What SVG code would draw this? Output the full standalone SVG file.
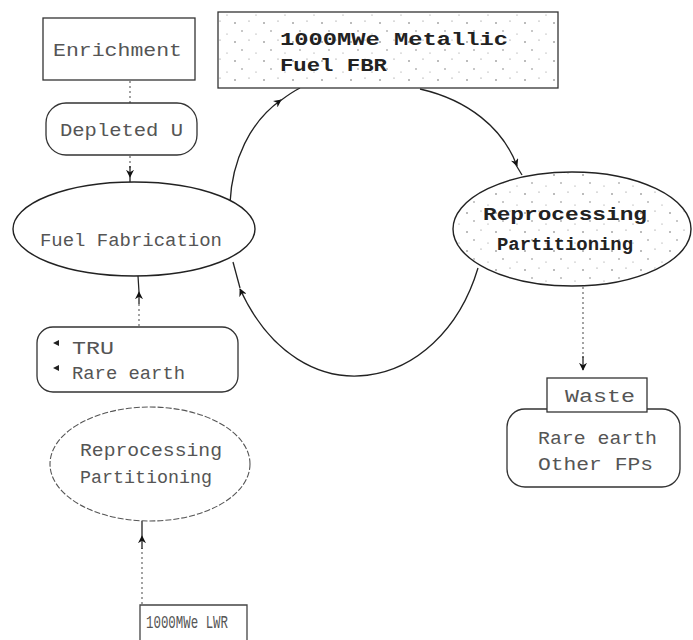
<svg xmlns="http://www.w3.org/2000/svg" width="693" height="640" viewBox="0 0 693 640">
  <defs>
    <marker id="arrow" viewBox="0 0 10 10" refX="9" refY="5" markerWidth="8" markerHeight="8" markerUnits="userSpaceOnUse" orient="auto">
      <path d="M0,0 L10,5 L0,10 L3,5 z" fill="#111"/>
    </marker>
    <pattern id="speckle" width="29" height="19" patternUnits="userSpaceOnUse">
      <circle cx="3" cy="4" r="0.8" fill="#666"/>
      <circle cx="17" cy="2" r="0.6" fill="#777"/>
      <circle cx="10" cy="12" r="0.7" fill="#666"/>
      <circle cx="24" cy="15" r="0.6" fill="#888"/>
    </pattern>
    <style>
      .box { fill: #fff; stroke: #333; stroke-width: 1.3; }
      .soft { fill: #fff; stroke: #555; stroke-width: 1.1; stroke-dasharray: 6 2; }
      .oval { fill: #fff; stroke: #222; stroke-width: 1.4; }
      .lbl { font-family: "Liberation Mono", "DejaVu Sans Mono", monospace; font-size: 19px; fill: #555; }
      .dark { fill: #222; font-weight: bold; }
      .link { fill: none; stroke: #222; stroke-width: 1.3; }
      .dot { fill: none; stroke: #666; stroke-width: 1.2; stroke-dasharray: 2 3; }
    </style>
  </defs>

  <!-- connectors -->
  <g id="connectors">
    <!-- Enrichment to Depleted U -->
    <line class="dot" x1="130" y1="81" x2="130" y2="103"/>
    <!-- Depleted U to Fuel Fabrication -->
    <line class="dot" x1="130" y1="156" x2="130" y2="168"/>
    <path class="link" d="M130,166 L130,177" marker-end="url(#arrow)"/>
    <line class="link" x1="130" y1="177" x2="130" y2="182"/>
    <!-- TRU / Rare earth to Fuel Fabrication -->
    <line class="dot" x1="139" y1="326" x2="139" y2="303"/>
    <path class="link" d="M139,304 L139,292" marker-end="url(#arrow)"/>
    <line class="link" x1="139" y1="292" x2="138" y2="276"/>
    <!-- LWR to Reprocessing / Partitioning -->
    <line class="dot" x1="142" y1="604" x2="142" y2="548"/>
    <path class="link" d="M142,549 L142,536" marker-end="url(#arrow)"/>
    <line class="link" x1="142" y1="536" x2="142" y2="521"/>
    <!-- Fuel Fabrication to FBR -->
    <path class="link" d="M230,203 C232,160 250,122 281,100" marker-end="url(#arrow)"/>
    <path class="link" d="M280,101 C288,95 294,91 300,88"/>
    <!-- FBR to Reprocessing / Partitioning -->
    <path class="link" d="M420,89 C468,100 503,128 517,166" marker-end="url(#arrow)"/>
    <line class="link" x1="516" y1="165" x2="522" y2="175"/>
    <!-- Reprocessing / Partitioning back to Fuel Fabrication -->
    <path class="link" d="M478,268 C440,395 300,420 240,289" marker-end="url(#arrow)"/>
    <line class="link" x1="240" y1="288" x2="233" y2="262"/>
    <!-- Reprocessing / Partitioning to Waste -->
    <line class="dot" x1="583" y1="287" x2="583" y2="358"/>
    <path class="link" d="M583,356 L583,370" marker-end="url(#arrow)"/>
  </g>

  <g id="enrichment">
    <rect class="box" x="43" y="18" width="152" height="62"/>
    <text class="lbl" x="53" y="56" textLength="129" lengthAdjust="spacingAndGlyphs">Enrichment</text>
  </g>

  <g id="depleted-u">
    <rect class="box" x="46" y="103" width="151" height="52" rx="20"/>
    <text class="lbl" x="60" y="136" textLength="123" lengthAdjust="spacingAndGlyphs">Depleted U</text>
  </g>

  <g id="fbr">
    <rect class="box" x="218" y="12" width="340" height="76"/>
    <rect x="219" y="13" width="338" height="74" fill="url(#speckle)"/>
    <text class="lbl dark" x="280" y="45" font-size="21" textLength="228" lengthAdjust="spacingAndGlyphs">1000MWe Metallic</text>
    <text class="lbl dark" x="280" y="71" font-size="21" textLength="107" lengthAdjust="spacingAndGlyphs">Fuel FBR</text>
  </g>

  <g id="fuel-fabrication">
    <ellipse class="oval" cx="134" cy="229" rx="121" ry="47"/>
    <text class="lbl" x="40" y="246" textLength="182" lengthAdjust="spacingAndGlyphs">Fuel Fabrication</text>
  </g>

  <g id="tru-rare-earth">
    <rect class="box" x="37" y="327" width="201" height="65" rx="16"/>
    <path d="M53,343 L59,340 L59,346 z" fill="#222"/>
    <path d="M53,368 L59,365 L59,371 z" fill="#222"/>
    <text class="lbl" x="72" y="354" textLength="42" lengthAdjust="spacingAndGlyphs">TRU</text>
    <text class="lbl" x="72" y="379" textLength="113" lengthAdjust="spacingAndGlyphs">Rare earth</text>
  </g>

  <g id="reprocessing-lwr">
    <ellipse class="soft" cx="150" cy="464" rx="100" ry="57"/>
    <text class="lbl" x="80" y="456" textLength="142" lengthAdjust="spacingAndGlyphs">Reprocessing</text>
    <text class="lbl" x="80" y="483" textLength="132" lengthAdjust="spacingAndGlyphs">Partitioning</text>
  </g>

  <g id="lwr">
    <path d="M140,640 L140,605 L247,605 L247,640" fill="#fff" stroke="#444" stroke-width="1.3"/>
    <text class="lbl" x="146" y="628" font-size="15" textLength="82" lengthAdjust="spacingAndGlyphs">1000MWe LWR</text>
  </g>

  <g id="reprocessing-fbr">
    <ellipse class="oval" cx="572" cy="229" rx="119" ry="57"/>
    <ellipse cx="572" cy="229" rx="118" ry="56" fill="url(#speckle)"/>
    <text class="lbl dark" x="483" y="220" font-size="21" textLength="164" lengthAdjust="spacingAndGlyphs">Reprocessing</text>
    <text class="lbl dark" x="497" y="250" font-size="21" textLength="136" lengthAdjust="spacingAndGlyphs">Partitioning</text>
  </g>

  <g id="waste">
    <rect class="box" x="507" y="409" width="173" height="78" rx="18"/>
    <rect class="box" x="547" y="378" width="100" height="34"/>
    <text class="lbl" x="565" y="402" textLength="70" lengthAdjust="spacingAndGlyphs">Waste</text>
    <text class="lbl" x="538" y="444" textLength="119" lengthAdjust="spacingAndGlyphs">Rare earth</text>
    <text class="lbl" x="538" y="470" textLength="115" lengthAdjust="spacingAndGlyphs">Other FPs</text>
  </g>
</svg>
